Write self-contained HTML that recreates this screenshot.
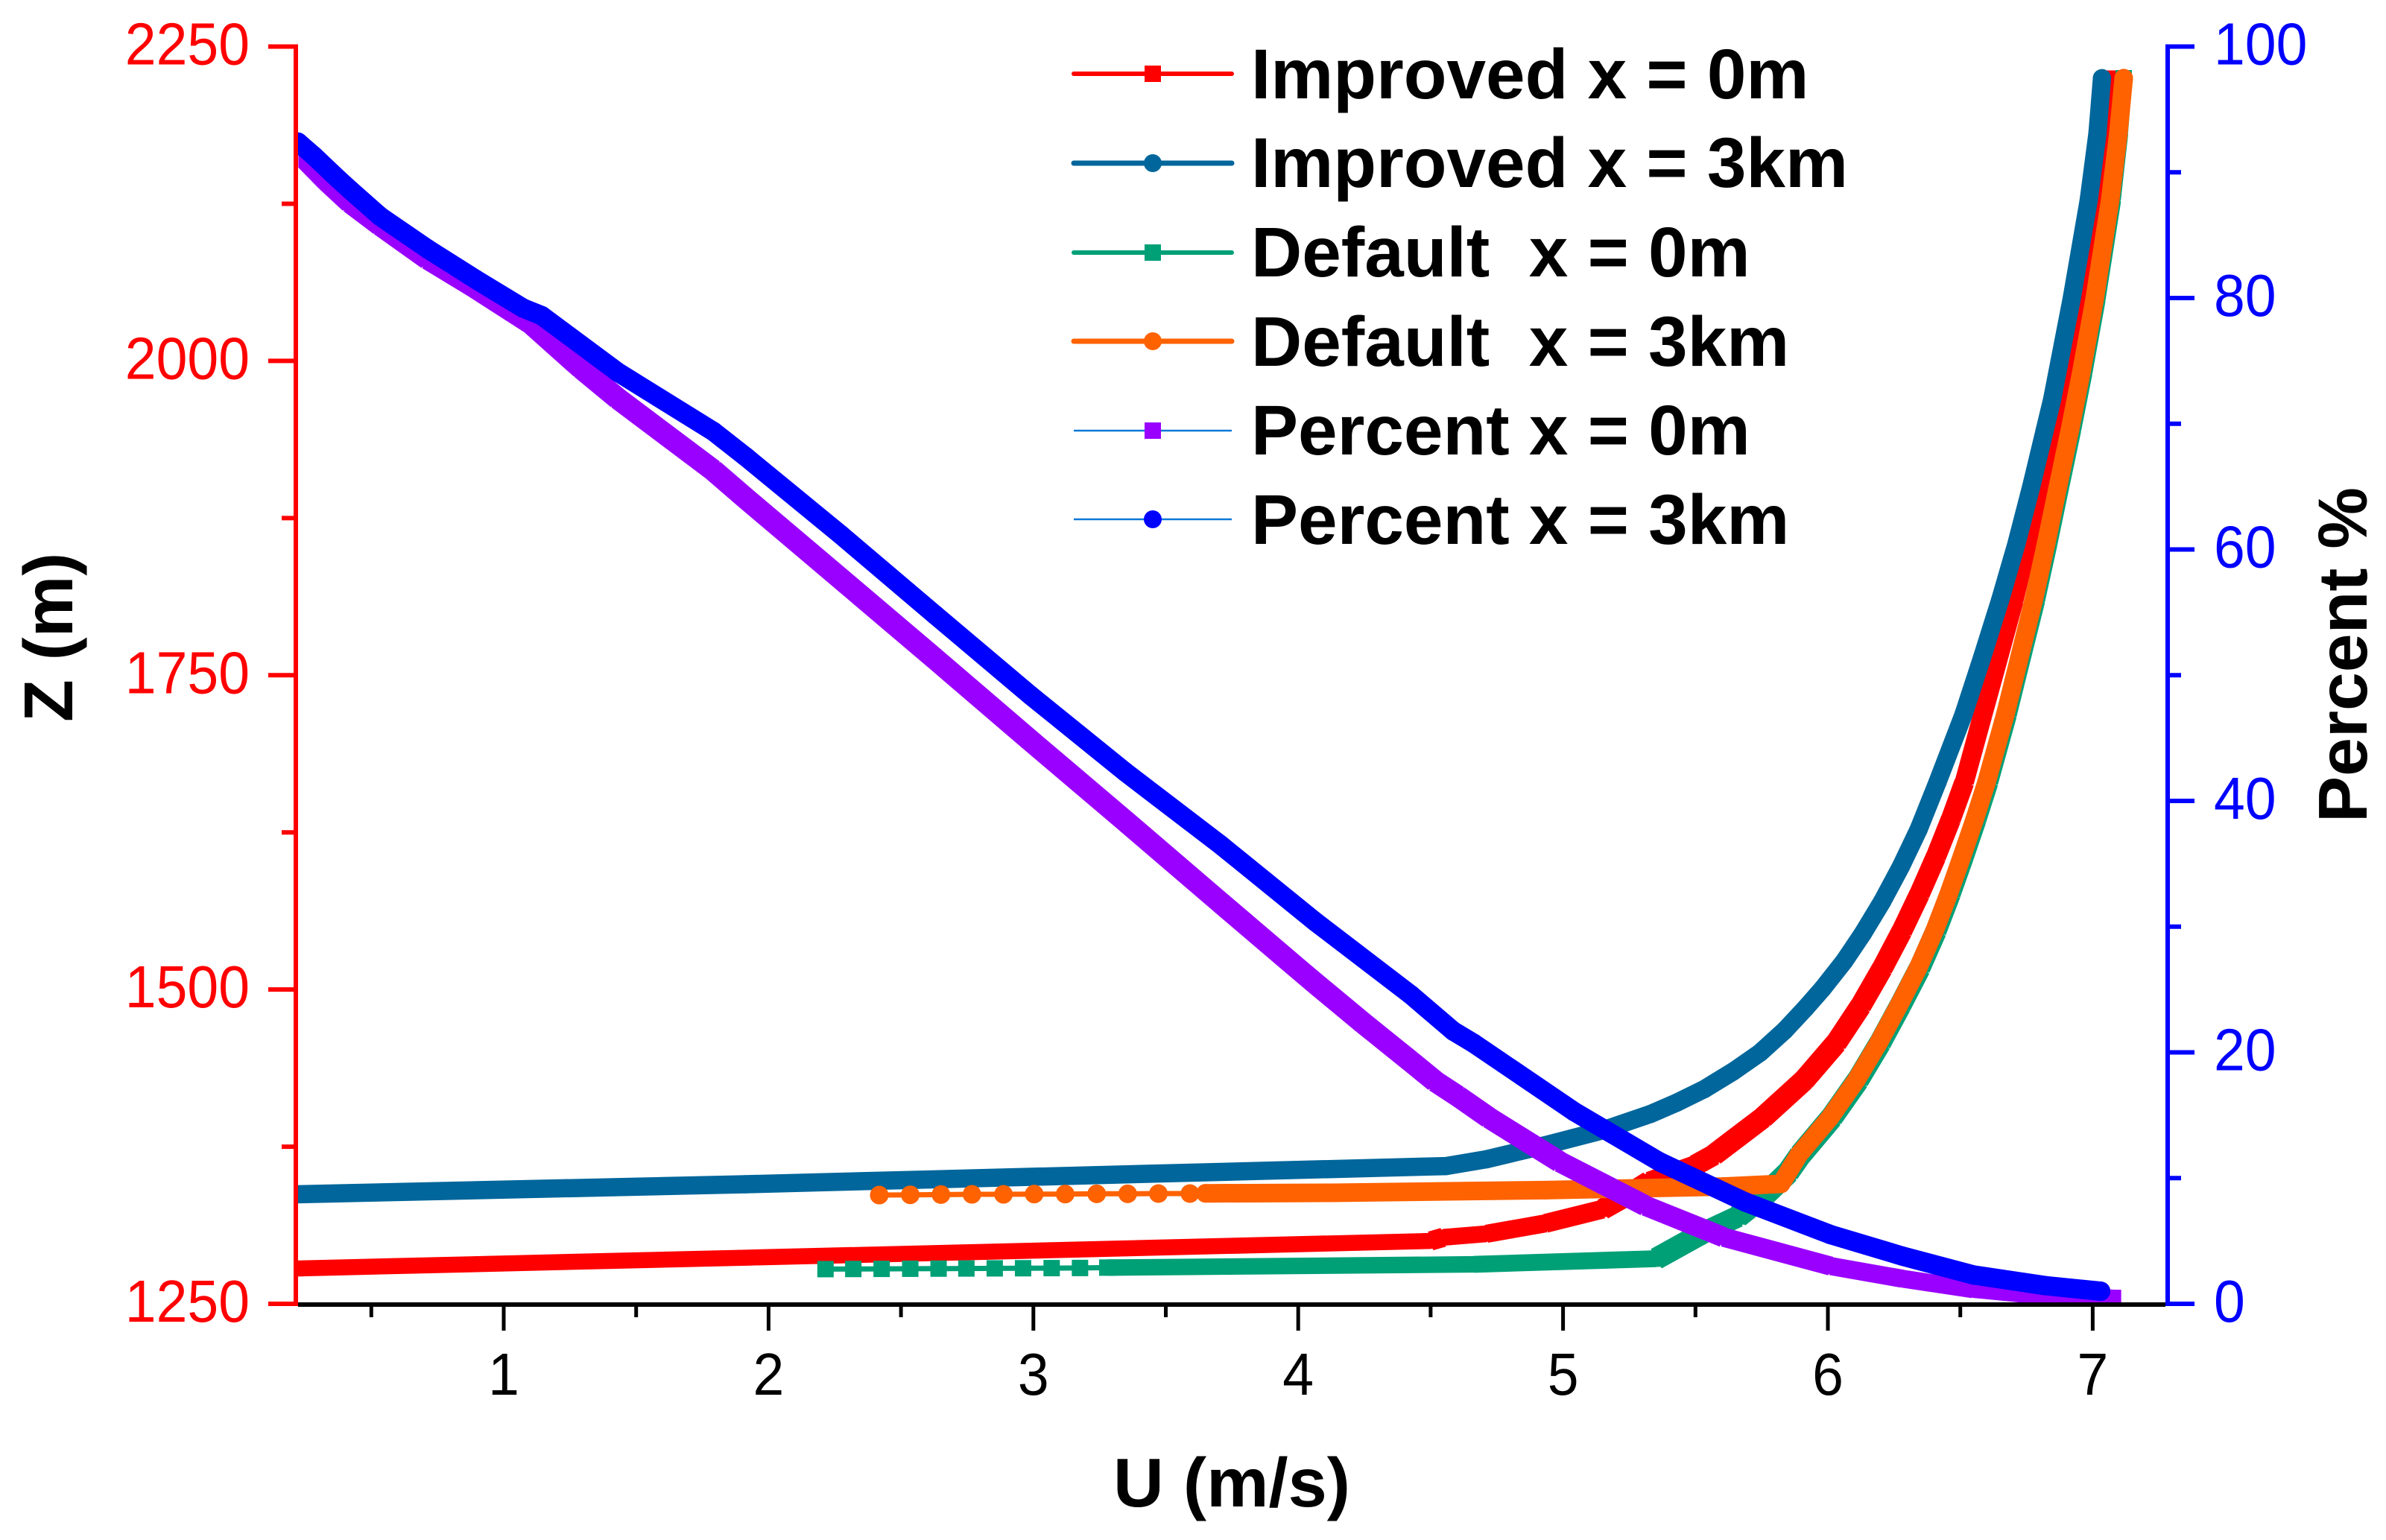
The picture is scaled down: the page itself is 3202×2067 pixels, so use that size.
<!DOCTYPE html>
<html lang="en">
<head>
<meta charset="utf-8">
<title>Velocity and percent profiles</title>
<style>
html,body{margin:0;padding:0;background:#fff}
svg{display:block}
text{font-family:"Liberation Sans",Arial,sans-serif;white-space:pre}
.legend-text,.axis-title{font-weight:bold;font-size:93px;fill:#000}
.legend-text{font-size:94.5px}
</style>
</head>
<body>
<svg id="chart" xmlns="http://www.w3.org/2000/svg" width="3202" height="2067" viewBox="0 0 3202 2067">
  <defs>
    <clipPath id="plot-clip"><rect x="397" y="40" width="2510" height="1708"/></clipPath>
  </defs>
  <rect x="0" y="0" width="3202" height="2067" fill="#ffffff"/>
  <g id="series-layer" clip-path="url(#plot-clip)"></g>
  <g id="axes-layer"></g>

  <text class="axis-title" x="1494" y="2022" textLength="318" lengthAdjust="spacingAndGlyphs">U (m/s)</text>
  <text class="axis-title" transform="translate(97,969) rotate(-90)">Z (m)</text>
  <text class="axis-title" transform="translate(3176,1104) rotate(-90)" textLength="450" lengthAdjust="spacingAndGlyphs">Percent %</text>

  <g>
    <g>
      <line x1="1441" y1="99" x2="1653" y2="99" stroke="#ff0000" stroke-width="6" stroke-linecap="round"/>
      <rect x="1536" y="88" width="22" height="22" fill="#ff0000"/>
      <text class="legend-text" x="1679" y="132">Improved x = 0m</text>
    </g>
    <g>
      <line x1="1441" y1="219" x2="1653" y2="219" stroke="#00669b" stroke-width="7" stroke-linecap="round"/>
      <circle cx="1547" cy="219" r="12" fill="#00669b"/>
      <text class="legend-text" x="1679" y="251">Improved x = 3km</text>
    </g>
    <g>
      <line x1="1441" y1="339" x2="1653" y2="339" stroke="#00a077" stroke-width="6" stroke-linecap="round"/>
      <rect x="1536" y="328" width="22" height="22" fill="#00a077"/>
      <text class="legend-text" x="1679" y="371">Default  x = 0m</text>
    </g>
    <g>
      <line x1="1441" y1="458" x2="1653" y2="458" stroke="#ff6200" stroke-width="7" stroke-linecap="round"/>
      <circle cx="1547" cy="458" r="12" fill="#ff6200"/>
      <text class="legend-text" x="1679" y="491">Default  x = 3km</text>
    </g>
    <g>
      <line x1="1441" y1="578" x2="1653" y2="578" stroke="#0a78d8" stroke-width="2.5"/>
      <rect x="1536" y="567" width="22" height="22" fill="#9900ff"/>
      <text class="legend-text" x="1679" y="610">Percent x = 0m</text>
    </g>
    <g>
      <line x1="1441" y1="697" x2="1653" y2="697" stroke="#0a78d8" stroke-width="2.5"/>
      <circle cx="1547" cy="697" r="12" fill="#0000ff"/>
      <text class="legend-text" x="1679" y="730">Percent x = 3km</text>
    </g>
  </g>
</svg>
<script>
// ---------- tick values ----------
const xMajorTicks = [1, 2, 3, 4, 5, 6, 7];
const xMinorTicks = [0.5, 1.5, 2.5, 3.5, 4.5, 5.5, 6.5];
const zMajorTicks = [1250, 1500, 1750, 2000, 2250];
const zMinorTicks = [1375, 1625, 1875, 2125];
const percentMajorTicks = [0, 20, 40, 60, 80, 100];
const percentMinorTicks = [10, 30, 50, 70, 90];

// ---------- series values ----------
const improved0mU = [0.215,1.912,4.500,4.548,4.711,4.934,5.150,5.240,5.325,5.499,5.570,5.755,5.910,6.031,6.124,6.205,6.279,6.346,6.408,6.464,6.515,6.585,6.644,6.703,6.754,6.802,6.850,6.898,6.954,7.018,7.055,7.080];
const improved0mZ = [1278.1,1286.7,1300,1302.9,1305.7,1314,1325.3,1336,1347.2,1360.2,1368.5,1398.1,1427.8,1457.4,1487,1516.7,1546.3,1575.9,1605.6,1635.2,1664.8,1718.7,1763.8,1809.4,1854.4,1900,1945,1990.7,2048.8,2128,2181,2224.8];

const improved3kmU = [0.215,1.912,4.559,4.711,4.922,5.150,5.330,5.429,5.533,5.643,5.744,5.837,5.916,5.980,6.062,6.132,6.205,6.276,6.343,6.414,6.512,6.582,6.650,6.712,6.768,6.819,6.847,6.920,6.985,7.018,7.035];
const improved3kmZ = [1337.1,1345.1,1359.6,1365,1375.6,1388,1401,1410,1420.7,1434.9,1449.7,1467.5,1485.3,1500.7,1522.6,1544.5,1570,1597.9,1627.5,1664.8,1718.7,1763.8,1809.4,1854.4,1900,1945,1969.4,2048.8,2128,2181,2224.8];

const default0mU = [2.215,2.320,2.427,2.535,2.642,2.747,2.854,2.961,3.069,3.176,3.279,4.664,5.352,5.527,5.661,5.755,5.849,5.896,6.014,6.113,6.197,6.273,6.346,6.408,6.462,6.512,6.560,6.605,6.676,6.729,6.783,6.830,6.875,6.920,6.963,7.013,7.072,7.100,7.117];
const default0mZ = [1277.6,1277.7,1277.8,1277.9,1278.0,1278.1,1278.2,1278.3,1278.4,1278.5,1278.8,1281.4,1285.9,1306.3,1319.5,1335.3,1354.3,1368.5,1398.1,1427.8,1457.4,1487,1516.7,1546.3,1575.9,1605.6,1635.2,1664.8,1718.7,1763.8,1809.4,1854.4,1900,1945,1990.7,2048.8,2128,2181,2224.8];

const default3kmU = [2.418,2.535,2.651,2.768,2.887,3.003,3.120,3.239,3.356,3.472,3.591,3.650,4.126,4.934,5.606,5.823,5.890,6.008,6.107,6.191,6.267,6.340,6.402,6.456,6.506,6.554,6.599,6.670,6.723,6.777,6.824,6.869,6.914,6.957,7.007,7.066,7.097,7.117];
const default3kmZ = [1336.5,1336.7,1336.9,1337.1,1337.1,1337.3,1337.3,1337.5,1337.5,1337.7,1337.7,1337.9,1338.3,1340.4,1343.3,1345.4,1368.5,1398.1,1427.8,1457.4,1487,1516.7,1546.3,1575.9,1605.6,1635.2,1664.8,1718.7,1763.8,1809.4,1854.4,1900,1945,1990.7,2048.8,2128,2181,2224.8];

const percent0mU = [0.254,0.291,0.333,0.420,0.533,0.713,0.893,1.107,1.293,1.431,1.791,1.912,2.271,2.629,2.989,3.347,3.707,3.991,4.064,4.247,4.424,4.517,4.604,4.720,4.987,5.311,5.606,6.011,6.281,6.549,6.819,7.078];
const percent0mP = [91.0,90.2,89.3,87.6,85.8,83.1,80.8,77.9,74.4,72.0,66.3,64.1,57.7,51.3,44.8,38.4,31.9,26.8,25.5,22.3,19.3,17.7,16.5,14.8,11.3,7.8,5.3,3.0,2.0,1.15,0.6,0.5];

const percent3kmU = [0.223,0.283,0.373,0.420,0.533,0.713,0.893,1.073,1.143,1.431,1.791,1.912,2.271,2.629,2.989,3.347,3.707,4.064,4.424,4.585,4.664,5.041,5.364,5.688,6.011,6.281,6.549,6.819,7.030];
const percent3kmP = [92.4,91.3,89.5,88.6,86.5,83.9,81.5,79.2,78.6,74.1,69.4,67.4,61.2,54.8,48.4,42.3,36.5,30.4,24.6,21.7,20.7,15.3,11.3,8.1,5.5,3.8,2.3,1.45,1.0];

// number of leading, widely spaced samples where individual markers are visible
const default0mSparseCount = 10;
const default3kmSparseCount = 11;

// ---------- axis functions ----------
const SVGNS = 'http://www.w3.org/2000/svg';
function xScale(u) { return 676 + (u - 1) * 355.4; }
function zScale(z) { return 1750 - (z - 1250) * 1.6875; }
function pScale(p) { return 1750 - p * 16.875; }

function make(tag, attrs, parent) {
  const node = document.createElementNS(SVGNS, tag);
  for (const key in attrs) node.setAttribute(key, attrs[key]);
  parent.appendChild(node);
  return node;
}

const axesLayer = document.getElementById('axes-layer');
const seriesLayer = document.getElementById('series-layer');

function drawTick(x1, y1, x2, y2, color, width, name) {
  const tick = make('line', {x1: x1, y1: y1, x2: x2, y2: y2, stroke: color, 'stroke-width': width}, axesLayer);
  
  
}

function drawLabel(x, y, text, color, anchor, length, name) {
  const label = make('text', {x: x, y: y, fill: color, 'font-size': 80, 'text-anchor': anchor, textLength: length, lengthAdjust: 'spacingAndGlyphs'}, axesLayer);
  label.textContent = text;
  
  
}

function digitsWidth(text) { return String(text).length * 41.8; }

function drawAxes() {
  // left axis
  drawTick(397, zScale(2250) - 3, 397, zScale(1250) + 3, '#ff0000', 6, 'left-y-axis-line');
  zMajorTicks.forEach(function (z) {
    drawTick(360, zScale(z), 397, zScale(z), '#ff0000', 6, 'left-y-major-tick');
    drawLabel(335, zScale(z) + 24, String(z), '#ff0000', 'end', digitsWidth(z), 'left-y-tick-label');
  });
  zMinorTicks.forEach(function (z) {
    drawTick(378, zScale(z), 397, zScale(z), '#ff0000', 6, 'left-y-minor-tick');
  });
  // right axis
  drawTick(2909, pScale(100) - 3, 2909, pScale(0) + 3, '#0000ff', 6, 'right-y-axis-line');
  percentMajorTicks.forEach(function (p) {
    drawTick(2909, pScale(p), 2945, pScale(p), '#0000ff', 6, 'right-y-major-tick');
    drawLabel(2971, pScale(p) + 24, String(p), '#0000ff', 'start', digitsWidth(p), 'right-y-tick-label');
  });
  percentMinorTicks.forEach(function (p) {
    drawTick(2909, pScale(p), 2927, pScale(p), '#0000ff', 6, 'right-y-minor-tick');
  });
  // bottom axis
  drawTick(400, 1751, 2906, 1751, '#000000', 6, 'x-axis-line');
  xMajorTicks.forEach(function (u) {
    drawTick(xScale(u), 1751, xScale(u), 1786, '#000000', 5, 'x-major-tick');
    drawLabel(xScale(u), 1872, String(u), '#000000', 'middle', digitsWidth(u), 'x-tick-label');
  });
  xMinorTicks.forEach(function (u) {
    drawTick(xScale(u), 1751, xScale(u), 1768, '#000000', 5, 'x-minor-tick');
  });
}

function pointString(xs, ys, yFn, from, to) {
  const parts = [];
  for (let i = from; i <= to && i < xs.length; i++) {
    parts.push(xScale(xs[i]).toFixed(1) + ',' + yFn(ys[i]).toFixed(1));
  }
  return parts.join(' ');
}

function drawSeries(seriesName, xs, ys, yFn, color, shape, size, sparseCount, lineWidth) {
  const group = make('g', {}, seriesLayer);
  
  
  if (sparseCount > 0) {
    const thin = make('polyline', {points: pointString(xs, ys, yFn, 0, sparseCount), fill: 'none', stroke: color, 'stroke-width': lineWidth}, group);
    
    
  }
  if (shape === 'circle') {
    const band = make('polyline', {points: pointString(xs, ys, yFn, sparseCount, xs.length - 1), fill: 'none', stroke: color, 'stroke-width': size, 'stroke-linejoin': 'round', 'stroke-linecap': 'round'}, group);
    
    
  } else {
    // densely packed square markers sweep a band that widens on diagonal stretches
    for (let i = sparseCount; i < xs.length - 1; i++) {
      const x1 = xScale(xs[i]);
      const y1 = yFn(ys[i]);
      const x2 = xScale(xs[i + 1]);
      const y2 = yFn(ys[i + 1]);
      const len = Math.hypot(x2 - x1, y2 - y1) || 1;
      const sweep = size * (Math.abs(x2 - x1) + Math.abs(y2 - y1)) / len;
      const seg = make('line', {x1: x1, y1: y1, x2: x2, y2: y2, stroke: color, 'stroke-width': sweep}, group);
      
      
    }
  }
  for (let i = 0; i < xs.length; i++) {
    const px = xScale(xs[i]);
    const py = yFn(ys[i]);
    let mark;
    if (shape === 'circle') {
      mark = make('circle', {cx: px, cy: py, r: size / 2, fill: color}, group);
    } else {
      mark = make('rect', {x: px - size / 2, y: py - size / 2, width: size, height: size, fill: color}, group);
    }
    
    
  }
}

drawAxes();
drawSeries('improved-x-0m', improved0mU, improved0mZ, zScale, '#ff0000', 'square', 21, 0, 6);
drawSeries('improved-x-3km', improved3kmU, improved3kmZ, zScale, '#00669b', 'circle', 24.5, 0, 7);
drawSeries('default-x-0m', default0mU, default0mZ, zScale, '#00a077', 'square', 22, default0mSparseCount, 7);
drawSeries('default-x-3km', default3kmU, default3kmZ, zScale, '#ff6200', 'circle', 25, default3kmSparseCount, 7);
drawSeries('percent-x-0m', percent0mU, percent0mP, pScale, '#9900ff', 'square', 21, 0, 3);
drawSeries('percent-x-3km', percent3kmU, percent3kmP, pScale, '#0000ff', 'circle', 26, 0, 3);
</script>
</body>
</html>
